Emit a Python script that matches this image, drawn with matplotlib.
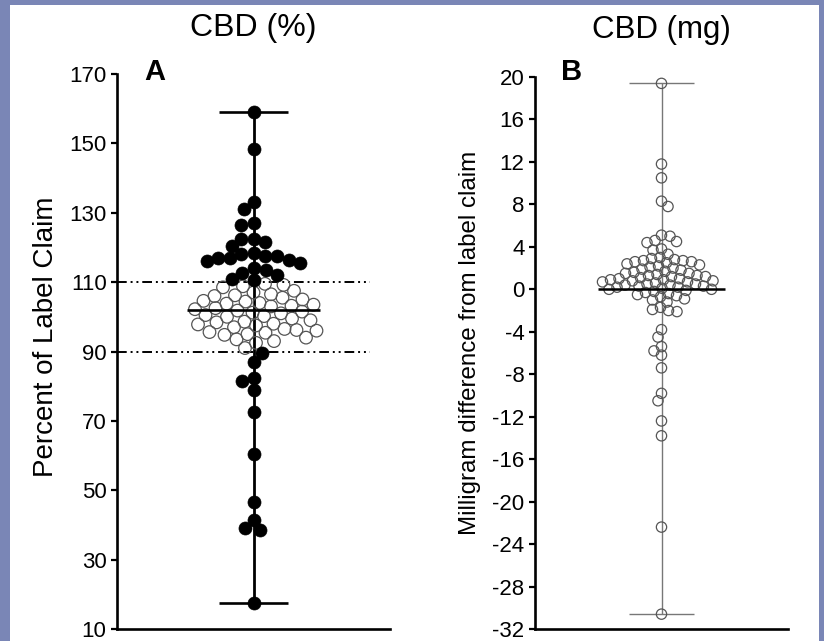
import numpy as np
import matplotlib
matplotlib.use("Agg")
import matplotlib.pyplot as plt
from matplotlib.patches import Rectangle

# ---------------- data ----------------
a_title = "CBD (%)"
b_title = "CBD (mg)"
a_ylabel = "Percent of Label Claim"
b_ylabel = "Milligram difference from label claim"
a_yticks = [10, 30, 50, 70, 90, 110, 130, 150, 170]
b_yticks = list(range(-32, 21, 4))

a_values = [
    159, 148.5, 133, 131, 127, 126.5, 122.5, 122.5, 121.5, 120.5, 118.5, 118,
    117.5, 117.5, 117, 117, 116.5, 116, 115.5, 114, 113.5, 112.5, 112, 111, 110.5,
    109.5, 109.2, 108.8, 108.5,
    107.5, 107.0, 106.5, 106.2, 106.0, 105.5,
    105.0, 104.6, 104.4, 104.0, 103.8, 103.5, 103.2, 103.0,
    102.5, 102.2, 101.8, 101.5, 101.2, 101.0, 100.5, 100.2, 100.0,
    99.5, 99.0, 98.6, 98.4, 98.0, 97.8, 97.5, 97.0,
    96.5, 96.2, 96.0, 95.6, 95.4, 95.0, 94.8,
    94.0, 93.5, 93.0, 92.5, 91.0,
    89.5, 87, 82.5, 81.5, 79, 72.5, 60.5, 46.5, 41.5, 39, 38.5, 17.5,
]
a_lower_limit = 90
a_upper_limit = 110
a_median = 102

b_values = [
    19.4, 11.8, 10.5, 8.3, 7.8,
    5.1, 5.0, 4.6, 4.5, 4.4,
    3.8, 3.7, 3.3, 3.0,
    2.9, 2.8, 2.7, 2.7, 2.6, 2.6, 2.5, 2.4, 2.3, 2.2, 2.1, 2.0,
    1.9, 1.8, 1.7, 1.6, 1.5, 1.5, 1.4, 1.3, 1.3, 1.2, 1.2, 1.1, 1.0, 1.0,
    0.9, 0.9, 0.8, 0.8, 0.7, 0.7, 0.6, 0.5, 0.5, 0.4, 0.4, 0.3, 0.3, 0.2, 0.2,
    0.1, 0.0, 0.0,
    -0.1, -0.2, -0.3, -0.4, -0.5, -0.6, -0.7, -0.9, -1.0, -1.2,
    -1.7, -1.9, -2.0, -2.1,
    -3.8, -4.5, -5.4, -5.8, -6.2, -7.4, -9.8, -10.5, -12.4, -13.8, -22.4, -30.6,
]
b_center_line = 0

# ---------------- figure ----------------
W, H = 824, 641
plt.rcParams["font.family"] = ["Liberation Sans", "DejaVu Sans"]
plt.rcParams["axes.unicode_minus"] = False
fig = plt.figure(figsize=(W / 100, H / 100), dpi=100)
fig.patch.set_facecolor("#7a86b6")
bg = Rectangle((10 / W, 0), (819 - 10) / W, (641 - 5) / H,
               transform=fig.transFigure, facecolor="white",
               edgecolor="none", zorder=-10)
fig.patches.append(bg)


def px_axes(left, right, top, bottom):
    ax = fig.add_axes([left / W, 1 - bottom / H, (right - left) / W, (bottom - top) / H])
    ax.set_zorder(1)
    return ax


def fx(x):
    return x / W


def fy(y):
    return 1 - y / H


def swarm_x(ax, values, diam_px):
    vals = np.asarray(values, dtype=float)
    n = len(vals)
    pts = ax.transData.transform(np.column_stack([np.zeros(n), vals]))
    x0 = pts[0, 0]
    order = np.argsort(-vals)
    placed = []
    xs = np.full(n, x0)
    for j, i in enumerate(order):
        y = pts[i, 1]
        sign = 1 if j % 2 == 0 else -1
        for k in range(0, 2000):
            found = False
            cands = [0.0] if k == 0 else [sign * k * 0.5, -sign * k * 0.5]
            for c in cands:
                x = x0 + c
                ok = True
                for (px_, py_) in placed:
                    if (x - px_) ** 2 + (y - py_) ** 2 < diam_px ** 2:
                        ok = False
                        break
                if ok:
                    xs[i] = x
                    found = True
                    break
            if found:
                break
        placed.append((xs[i], y))
    data = ax.transData.inverted().transform(np.column_stack([xs, pts[:, 1]]))
    return data[:, 0]


def style_axes(ax):
    for s in ["top", "right"]:
        ax.spines[s].set_visible(False)
    for s in ["left", "bottom"]:
        ax.spines[s].set_linewidth(1.9)
    ax.set_xticks([])
    ax.tick_params(axis="y", direction="out", length=4.5, width=1.6,
                   labelsize=16, pad=3)
    ax.patch.set_visible(False)


# ---------------- panel A ----------------
axA = px_axes(117, 390, 74, 629)
axA.set_xlim(-1, 1)
axA.set_ylim(10, 170)
axA.set_yticks(a_yticks)
style_axes(axA)

a_arr = np.array(a_values)
ax_x = swarm_x(axA, a_arr, 11.8)
outside = (a_arr < a_lower_limit) | (a_arr > a_upper_limit)

axA.vlines(0, a_arr.min(), a_arr.max(), color="black", lw=2.0, zorder=2)
axA.hlines([a_arr.min(), a_arr.max()], -0.256, 0.256, color="black", lw=1.9, zorder=2)
axA.hlines(a_median, -0.49, 0.49, color="black", lw=1.9, zorder=4)
axA.plot([-1, 0.853], [a_upper_limit] * 2, color="black", lw=1.4,
         linestyle=(0, (5, 2, 1, 2, 1, 2)), zorder=1, clip_on=False)
axA.plot([-1, 0.853], [a_lower_limit] * 2, color="black", lw=1.4,
         linestyle=(0, (5, 2, 1, 2, 1, 2)), zorder=1, clip_on=False)
axA.scatter(ax_x[~outside], a_arr[~outside], s=82, facecolors="none",
            edgecolors="#555555", linewidths=0.9, zorder=3)
axA.scatter(ax_x[outside], a_arr[outside], s=88, facecolors="black",
            edgecolors="black", linewidths=0.5, zorder=5)

fig.text(fx(253), fy(28), a_title, ha="center", va="center", fontsize=23)
fig.text(fx(155), fy(72), "A", ha="center", va="center", fontsize=21, fontweight="bold")
fig.text(fx(46), fy(337), a_ylabel, ha="center", va="center", rotation=90, fontsize=20)

# ---------------- panel B ----------------
axB = px_axes(535, 788, 77, 629)
axB.set_xlim(-1, 1)
axB.set_ylim(-32, 20)
axB.set_yticks(b_yticks)
style_axes(axB)

b_arr = np.array(b_values)
bx_x = swarm_x(axB, b_arr, 8.2)

axB.vlines(0, b_arr.min(), b_arr.max(), color="#777777", lw=1.0, zorder=2)
axB.hlines([b_arr.min(), b_arr.max()], -0.253, 0.253, color="#777777", lw=1.0, zorder=2)
axB.hlines(b_center_line, -0.50, 0.50, color="black", lw=1.8, zorder=4)
axB.scatter(bx_x, b_arr, s=55, facecolors="none", edgecolors="#555555",
            linewidths=0.9, zorder=3)

fig.text(fx(661), fy(30), b_title, ha="center", va="center", fontsize=22.5)
fig.text(fx(572), fy(72), "B", ha="center", va="center", fontsize=21, fontweight="bold")
fig.text(fx(470), fy(343), b_ylabel, ha="center", va="center", rotation=90, fontsize=17.4)

fig.savefig("out.png", dpi=100, facecolor=fig.get_facecolor())
